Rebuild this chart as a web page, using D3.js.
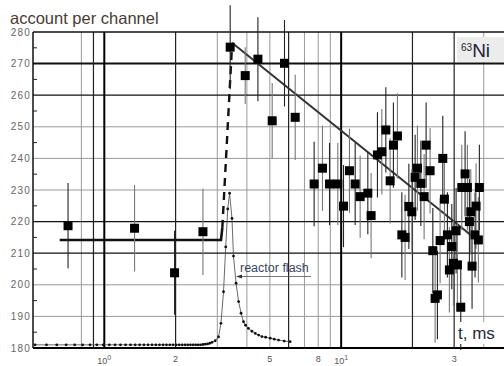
<!DOCTYPE html>
<html>
<head>
<meta charset="utf-8">
<script src="https://cdn.jsdelivr.net/npm/d3@7/dist/d3.min.js"></script>
<style>
  html, body { margin: 0; padding: 0; background: #fff; }
  svg { display: block; font-family: Arial, "Liberation Sans", sans-serif; }
</style>
</head>
<body>
<svg id="chart" width="504" height="366"></svg>
<script>
// measured points: time (ms), counts per channel, error
var pointT = [0.703, 1.342, 1.98, 2.609,
  3.40, 3.935, 4.452, 5.115, 5.765, 6.397, 7.69, 8.34, 8.93, 9.68,
  10.23, 10.84, 11.46, 12.03, 12.96, 13.38, 14.23, 14.85, 15.44, 16.10,
  16.62, 17.28, 18.04, 18.62, 19.31, 19.88, 20.53, 20.99, 21.70, 22.40,
  22.84, 23.74, 24.38, 24.93, 25.49, 26.17, 26.86, 27.29, 28.09, 28.64,
  29.32, 29.78, 30.57, 30.96, 31.99, 32.31, 33.36, 34.12, 34.79, 35.27,
  35.70, 37.12, 36.76, 37.96, 38.33];
var pointV = [218.7, 217.9, 203.8, 216.8,
  275.2, 266.2, 271.4, 251.9, 270.1, 253.0, 231.9, 236.9, 231.9, 231.9,
  224.9, 236.1, 231.9, 227.9, 229.0, 221.9, 241.1, 242.1, 249.0, 232.9,
  244.2, 247.1, 215.8, 215.0, 224.8, 223.1, 234.0, 236.9, 232.1, 227.9,
  244.2, 236.1, 210.8, 195.7, 196.8, 214.0, 240.0, 227.1, 215.8, 204.7,
  212.1, 206.8, 217.1, 206.3, 192.9, 230.8, 235.1, 230.8, 220.0, 223.1,
  205.9, 224.9, 215.8, 214.2, 230.8];
var pointErr = [13.5, 13.7, 13.3, 13.7,
  13.3, 9.0, 13.3, 12.0, 13.7, 13.5, 13.4, 13.5, 13.0, 13.0,
  13.0, 13.3, 13.0, 13.0, 13.0, 13.5, 13.5, 13.5, 13.5, 13.5,
  13.5, 13.5, 13.5, 13.5, 13.5, 13.5, 13.5, 13.5, 13.5, 13.5,
  13.5, 13.5, 13.5, 14.0, 14.0, 13.5, 13.5, 13.5, 13.5, 13.5,
  13.5, 13.5, 13.5, 13.5, 13.5, 13.5, 13.5, 13.5, 13.5, 13.5,
  13.5, 13.5, 13.5, 13.5, 13.5];

// reactor flash profile (same axis, arbitrary scale)
var flashT = [0.51, 0.57, 0.63, 0.69, 0.75, 0.81, 0.87, 0.93, 0.99, 1.05,
  1.11, 1.17, 1.23, 1.29, 1.35, 1.41, 1.47, 1.53, 1.59, 1.65, 1.71, 1.77,
  1.83, 1.89, 1.95, 2.01, 2.07, 2.13, 2.19, 2.25, 2.31, 2.37, 2.43, 2.49,
  2.55, 2.61, 2.67, 2.73, 2.79, 2.85, 2.94, 3.035, 3.108, 3.187, 3.256,
  3.32, 3.38, 3.46, 3.51, 3.60, 3.69, 3.78, 3.87, 3.95, 4.06, 4.20, 4.34,
  4.48, 4.63, 4.80, 5.02, 5.22, 5.44, 5.75, 6.09];
var flashV = [181, 181, 181, 181, 181, 181, 181, 181, 181, 181,
  181, 181, 181, 181, 181, 181, 181, 181, 181, 181, 181, 181,
  181, 181, 181, 181, 181, 181, 181, 181, 181, 181, 181, 181,
  181, 181.1, 181.2, 181.3, 181.5, 181.8, 182.3, 183.5, 187.8, 197.8, 212,
  224, 229, 221, 209.1, 200.5, 194.7, 191, 188.3, 187.2, 186.2, 185.3, 184.6,
  184.1, 183.6, 183.4, 183.1, 182.8, 182.5, 182.2, 182];

// fits
var flatFitT = [0.648, 3.11, 3.15];
var flatFitV = [214.2, 214.2, 218];
var riseT = [3.15, 3.46];
var riseV = [218, 275.5];
var decayT = [3.46, 38.6];
var decayV = [276.6, 213.4];

// axes
var yTicks = [180, 190, 200, 210, 220, 230, 240, 250, 260, 270, 280];
var yMinor = [185, 195, 205, 215, 225, 235, 245, 255, 265, 275];
var gridYDark = [270, 260, 220, 210];
var gridYLight = [250, 240, 230, 200, 190];
var gridXDark = [0.9, 2, 6, 20, 30];
var gridXHeavy = [1, 10];
var gridXLight = [0.8, 3, 4, 5, 7, 8, 9, 40];
var xTickVals = [1, 2, 5, 8, 10, 30];
var xTickText = ["10", "2", "5", "8", "10", "3"];
var xTickSup = ["0", "", "", "", "1", ""];

var svg = d3.select('#chart');
var x = d3.scaleLog().domain([0.5, 48.7]).range([33, 504]);
var y = d3.scaleLinear().domain([180, 280]).range([348, 32]);

// grid
var grid = svg.append('g');
grid.selectAll('.gyl').data(gridYLight).enter().append('line')
    .attr('x1', 33).attr('x2', 504)
    .attr('y1', function (d) { return y(d); }).attr('y2', function (d) { return y(d); })
    .attr('stroke', '#9a9a9a').attr('stroke-width', 1);
grid.selectAll('.gxl').data(gridXLight).enter().append('line')
    .attr('x1', function (d) { return x(d); }).attr('x2', function (d) { return x(d); })
    .attr('y1', y(280)).attr('y2', y(180))
    .attr('stroke', '#9a9a9a').attr('stroke-width', 1);
grid.selectAll('.gyd').data(gridYDark).enter().append('line')
    .attr('x1', 33).attr('x2', 504)
    .attr('y1', function (d) { return y(d); }).attr('y2', function (d) { return y(d); })
    .attr('stroke', '#111').attr('stroke-width', function (d) { return d === 270 ? 2 : 1.3; });
grid.selectAll('.gxd').data(gridXDark).enter().append('line')
    .attr('x1', function (d) { return x(d); }).attr('x2', function (d) { return x(d); })
    .attr('y1', y(280)).attr('y2', y(180))
    .attr('stroke', '#222').attr('stroke-width', 1.2);
grid.selectAll('.gxh').data(gridXHeavy).enter().append('line')
    .attr('x1', function (d) { return x(d); }).attr('x2', function (d) { return x(d); })
    .attr('y1', y(280)).attr('y2', y(180))
    .attr('stroke', '#000').attr('stroke-width', 2);

// frame
svg.append('line').attr('x1', 33).attr('x2', 504).attr('y1', y(280)).attr('y2', y(280))
    .attr('stroke', '#111').attr('stroke-width', 1.5);
svg.append('line').attr('x1', 33).attr('x2', 504).attr('y1', y(180)).attr('y2', y(180))
    .attr('stroke', '#000').attr('stroke-width', 2);
svg.append('line').attr('x1', 33).attr('x2', 33).attr('y1', y(280)).attr('y2', y(180))
    .attr('stroke', '#111').attr('stroke-width', 1.5);
svg.selectAll('.ymin').data(yMinor).enter().append('line')
    .attr('x1', 33).attr('x2', 37)
    .attr('y1', function (d) { return y(d); }).attr('y2', function (d) { return y(d); })
    .attr('stroke', '#222').attr('stroke-width', 1);

// y labels
svg.selectAll('.ylab').data(yTicks).enter().append('text')
    .attr('x', 31).attr('y', function (d) { return y(d) + 3.5; })
    .attr('text-anchor', 'end').attr('font-size', 10).attr('letter-spacing', 1.2)
    .attr('fill', '#666').text(function (d) { return d; });

// x labels
var xl = svg.selectAll('.xlab').data(xTickVals).enter().append('text')
    .attr('x', function (d) { return x(d); })
    .attr('y', function (d, i) { return xTickSup[i] ? 364 : 362; })
    .attr('text-anchor', 'middle').attr('font-size', 9).attr('fill', '#555');
xl.append('tspan').text(function (d, i) { return xTickText[i]; });
xl.append('tspan').attr('dy', -4).attr('font-size', 7)
    .text(function (d, i) { return xTickSup[i]; });

// reactor flash
var line = d3.line().x(function (d) { return x(d[0]); }).y(function (d) { return y(d[1]); });
var flash = flashT.map(function (t, i) { return [t, flashV[i]]; });
svg.append('path').datum(flash).attr('d', line)
    .attr('fill', 'none').attr('stroke', '#444').attr('stroke-width', 0.8);
svg.selectAll('.fdot').data(flash).enter().append('circle')
    .attr('cx', function (d) { return x(d[0]); }).attr('cy', function (d) { return y(d[1]); })
    .attr('r', 1.4).attr('fill', '#111');

// fit lines
svg.append('path').datum(flatFitT.map(function (t, i) { return [t, flatFitV[i]]; }))
    .attr('d', line).attr('fill', 'none').attr('stroke', '#111').attr('stroke-width', 2.6);
svg.append('path').datum(riseT.map(function (t, i) { return [t, riseV[i]]; }))
    .attr('d', line).attr('fill', 'none').attr('stroke', '#111').attr('stroke-width', 2.4)
    .attr('stroke-dasharray', '8,6');
svg.append('path').datum(decayT.map(function (t, i) { return [t, decayV[i]]; }))
    .attr('d', line).attr('fill', 'none').attr('stroke', '#333').attr('stroke-width', 2);

// error bars and points
var pts = pointT.map(function (t, i) { return { t: t, v: pointV[i], e: pointErr[i] }; });
svg.selectAll('.err').data(pts).enter().append('line')
    .attr('x1', function (d) { return x(d.t); }).attr('x2', function (d) { return x(d.t); })
    .attr('y1', function (d) { return y(d.v + d.e); }).attr('y2', function (d) { return y(d.v - d.e); })
    .attr('stroke', function (d, i) { return i % 2 ? '#777' : '#222'; }).attr('stroke-width', 1.1);
svg.selectAll('.pt').data(pts).enter().append('rect')
    .attr('x', function (d) { return x(d.t) - 4.5; }).attr('y', function (d) { return y(d.v) - 4.5; })
    .attr('width', 9).attr('height', 9).attr('fill', '#000');

// texts
svg.append('text').attr('x', 10).attr('y', 24).attr('font-size', 16.5)
    .attr('fill', '#4a3c34').text('account per channel');

var tl = svg.append('g');
tl.append('rect').attr('x', 456).attr('y', 322).attr('width', 48).attr('height', 22).attr('fill', '#fff');
tl.append('text').attr('x', 458).attr('y', 339).attr('font-size', 17).attr('fill', '#2a2a38').text('t, ms');

svg.append('rect').attr('x', 457).attr('y', 37).attr('width', 47).attr('height', 25).attr('fill', '#ececec');
var ni = svg.append('text').attr('x', 461).attr('y', 57).attr('fill', '#1e2236');
ni.append('tspan').attr('font-size', 10).attr('dy', -6).text('63');
ni.append('tspan').attr('font-size', 19).attr('dy', 6).text('Ni');

// reactor flash label
svg.append('text').attr('x', 240).attr('y', 272).attr('font-size', 12.5)
    .attr('fill', '#3a4664').text('reactor flash');
svg.append('line').attr('x1', 240).attr('x2', 311).attr('y1', 276.5).attr('y2', 276.5)
    .attr('stroke', '#555').attr('stroke-width', 0.8);
svg.append('path').attr('d', 'M236,276.5 L242,274.5 L242,278.5 Z').attr('fill', '#333');
</script>
</body>
</html>
